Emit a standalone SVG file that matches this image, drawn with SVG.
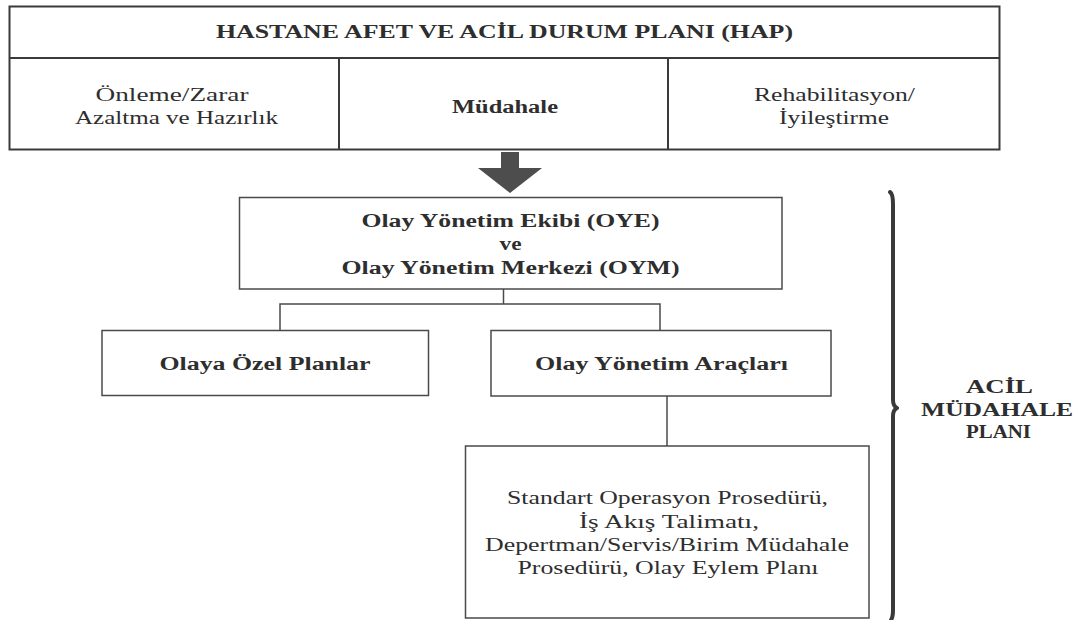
<svg xmlns="http://www.w3.org/2000/svg" width="1080" height="620" viewBox="0 0 1080 620">
<style>
.bg{fill:#ffffff}
.box{fill:#ffffff;stroke:#4a4a4a;stroke-width:1.5}
.hbox{fill:#ffffff;stroke:#3a3a3a;stroke-width:2}
.ln{fill:none;stroke:#4a4a4a;stroke-width:1.5}
.hl{fill:none;stroke:#3a3a3a;stroke-width:2}
.t{font-family:"Liberation Serif","Times New Roman",serif;font-size:18px;fill:#2e2e2e;text-anchor:middle}
.b{font-weight:bold}
.brace{fill:none;stroke:#3a3a3a;stroke-width:4;stroke-linecap:round;stroke-linejoin:round}
.arrow{fill:#4d4d4d}
</style>
<rect class="bg" x="0" y="0" width="1080" height="620"/>

<g id="hap">
  <rect class="hbox" x="9.5" y="6.5" width="990" height="143"/>
  <line class="hl" x1="9.5" y1="58" x2="999.5" y2="58"/>
  <line class="hl" x1="339" y1="58" x2="339" y2="149.5"/>
  <line class="hl" x1="668" y1="58" x2="668" y2="149.5"/>
  <text class="t b" x="504.5" y="38" textLength="577" lengthAdjust="spacingAndGlyphs">HASTANE AFET VE ACİL DURUM PLANI (HAP)</text>
</g>
<g id="onleme">
  <text class="t" x="172" y="101" textLength="153" lengthAdjust="spacingAndGlyphs">Önleme/Zarar</text>
  <text class="t" x="176.5" y="124" textLength="203" lengthAdjust="spacingAndGlyphs">Azaltma ve Hazırlık</text>
</g>
<g id="mudahale">
  <text class="t b" x="505" y="113" textLength="106" lengthAdjust="spacingAndGlyphs">Müdahale</text>
</g>
<g id="rehabilitasyon">
  <text class="t" x="834.5" y="101" textLength="161" lengthAdjust="spacingAndGlyphs">Rehabilitasyon/</text>
  <text class="t" x="834" y="124" textLength="110" lengthAdjust="spacingAndGlyphs">İyileştirme</text>
</g>

<g id="connectors">
  <polygon class="arrow" points="501,152 519,152 519,168 542,168 510,193 478,168 501,168"/>
  <polyline class="ln" points="503.5,289 503.5,304"/>
  <polyline class="ln" points="280,330 280,304 660,304 660,330"/>
  <polyline class="ln" points="667,396 667,446"/>
</g>

<g id="oye">
  <rect class="box" x="239.5" y="197.5" width="542.5" height="91.5"/>
  <text class="t b" x="510.5" y="227" textLength="298" lengthAdjust="spacingAndGlyphs">Olay Yönetim Ekibi (OYE)</text>
  <text class="t b" x="510.5" y="249.5" textLength="22" lengthAdjust="spacingAndGlyphs">ve</text>
  <text class="t b" x="510.5" y="273.5" textLength="338" lengthAdjust="spacingAndGlyphs">Olay Yönetim Merkezi (OYM)</text>
</g>
<g id="ozel">
  <rect class="box" x="102" y="330.5" width="326.5" height="65"/>
  <text class="t b" x="265" y="370" textLength="211" lengthAdjust="spacingAndGlyphs">Olaya Özel Planlar</text>
</g>
<g id="araclar">
  <rect class="box" x="491" y="330.5" width="340" height="65.5"/>
  <text class="t b" x="661.5" y="370" textLength="253" lengthAdjust="spacingAndGlyphs">Olay Yönetim Araçları</text>
</g>
<g id="prosedur">
  <rect class="box" x="465.5" y="446" width="403.5" height="172"/>
  <text class="t" x="667.5" y="504" textLength="321" lengthAdjust="spacingAndGlyphs">Standart Operasyon Prosedürü,</text>
  <text class="t" x="669" y="527.5" textLength="180" lengthAdjust="spacingAndGlyphs">İş Akış Talimatı,</text>
  <text class="t" x="667" y="551" textLength="364" lengthAdjust="spacingAndGlyphs">Depertman/Servis/Birim Müdahale</text>
  <text class="t" x="668" y="574" textLength="301" lengthAdjust="spacingAndGlyphs">Prosedürü, Olay Eylem Planı</text>
</g>

<g id="acil-mudahale-plani">
  <path class="brace" d="M890,192 Q893,194 893,204 L893,400 Q893,406 897,408 Q893,410 893,416 L893,610 Q893,617 891,620"/>
  <text class="t b" x="999.5" y="393" textLength="67" lengthAdjust="spacingAndGlyphs">ACİL</text>
  <text class="t b" x="997" y="416" textLength="152" lengthAdjust="spacingAndGlyphs">MÜDAHALE</text>
  <text class="t b" x="998.5" y="438" textLength="65" lengthAdjust="spacingAndGlyphs">PLANI</text>
</g>
</svg>
